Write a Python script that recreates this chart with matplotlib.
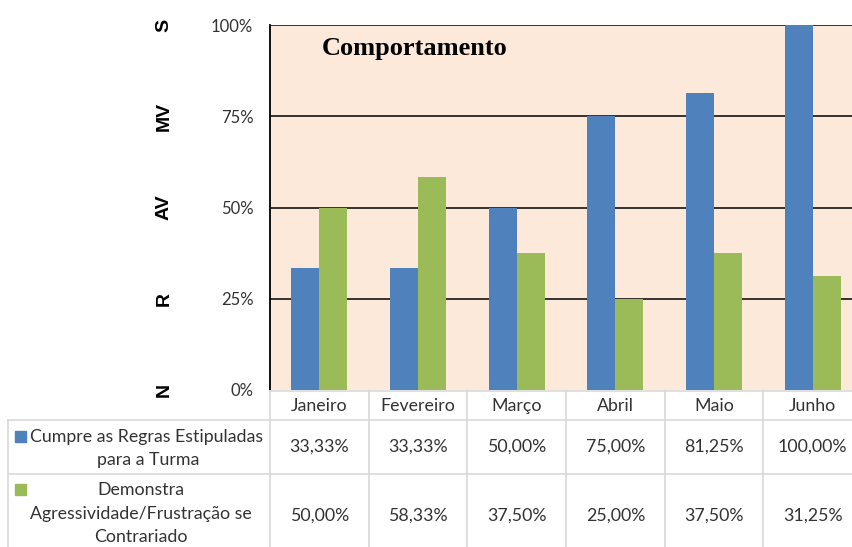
import numpy as np
import matplotlib
matplotlib.use("Agg")
import matplotlib.pyplot as plt
from matplotlib.patches import Rectangle

months = ["Janeiro", "Fevereiro", "Março", "Abril", "Maio", "Junho"]
cumpre = [33.33, 33.33, 50.00, 75.00, 81.25, 100.00]
agress = [50.00, 58.33, 37.50, 25.00, 37.50, 31.25]
yticks = [0, 25, 50, 75, 100]
ylabels = ["0%", "25%", "50%", "75%", "100%"]
levels = ["N", "R", "AV", "MV", "S"]
label1 = ["Cumpre as Regras Estipuladas", "para a Turma"]
label2 = ["Demonstra", "Agressividade/Frustração se", "Contrariado"]

BLUE, GREEN, BG = "#4F81BD", "#9BBB59", "#FDE9D9"
GRID = "#d9d9d9"
TXT = "#333333"
W, H = 853, 547
FONT = "Lato"
FS = 12.8

def fmt(v):
    return f"{v:.2f}".replace(".", ",") + "%"

fig = plt.figure(figsize=(W / 100, H / 100), dpi=100)
# plot area in pixel terms: left 270, right 862 (cut off), top 25, bottom 390
ax = fig.add_axes([270 / W, (H - 390) / H, 592 / W, 365 / H])
ax.set_facecolor(BG)
x = np.arange(len(months))
bw = 0.285
ax.bar(x - bw / 2, cumpre, bw, color=BLUE, zorder=3)
ax.bar(x + bw / 2, agress, bw, color=GREEN, zorder=3)
ax.set_xlim(-0.5, len(months) - 0.5)
ax.set_ylim(0, 100)
ax.set_yticks(yticks)
ax.set_yticklabels(ylabels, fontsize=12, color=TXT, family=FONT)
ax.tick_params(axis="y", length=0, pad=12)
ax.set_xticks([])
for y in yticks[1:]:
    ax.axhline(y, color="black", lw=1.1, zorder=2)
for s in ["top", "right", "bottom"]:
    ax.spines[s].set_visible(False)
ax.spines["left"].set_linewidth(1.3)
ax.text(52 / 592, 1 - 23 / 365, "Comportamento", transform=ax.transAxes, ha="left", va="center",
        fontsize=19, weight="bold", family="Liberation Serif")

# overlay in pixel coords for table and side labels
ov = fig.add_axes([0, 0, 1, 1], facecolor="none")
ov.set_xlim(0, W)
ov.set_ylim(H, 0)
ov.axis("off")

for lv, y in zip(levels, yticks):
    py = 390 - y / 100 * 365
    ov.text(164, py, lv, rotation=90, ha="center", va="center", fontsize=14,
            weight="bold", family="Liberation Sans")

cw = 592 / len(months)
cols = [270 + i * cw for i in range(len(months) + 1)]
ov.plot([270, W], [391, 391], color=GRID, lw=1.2)
for yy in [420, 474]:
    ov.plot([8, W], [yy, yy], color=GRID, lw=1.2)
ov.plot([8, 8], [420, H], color=GRID, lw=1.2)
for cx in cols[:-1]:
    ov.plot([cx, cx], [391, H], color=GRID, lw=1.2)

for i, m in enumerate(months):
    cx = cols[i] + cw / 2
    ov.text(cx, 406, m, ha="center", va="center", fontsize=FS, color=TXT, family=FONT)
    ov.text(cx, 447, fmt(cumpre[i]), ha="center", va="center", fontsize=FS,
            color=TXT, family=FONT)
    ov.text(cx, 516, fmt(agress[i]), ha="center", va="center", fontsize=FS,
            color=TXT, family=FONT)

ov.add_patch(Rectangle((15, 431), 11, 11, color=BLUE))
ov.text(147, 437, label1[0], ha="center", va="center", fontsize=FS, color=TXT, family=FONT)
ov.text(148, 460, label1[1], ha="center", va="center", fontsize=FS, color=TXT, family=FONT)
ov.add_patch(Rectangle((15, 484), 11, 11, color=GREEN))
for t, yy in zip(label2, [490, 514, 537]):
    ov.text(141, yy, t, ha="center", va="center", fontsize=FS, color=TXT, family=FONT)

fig.savefig("out.png", dpi=100)
